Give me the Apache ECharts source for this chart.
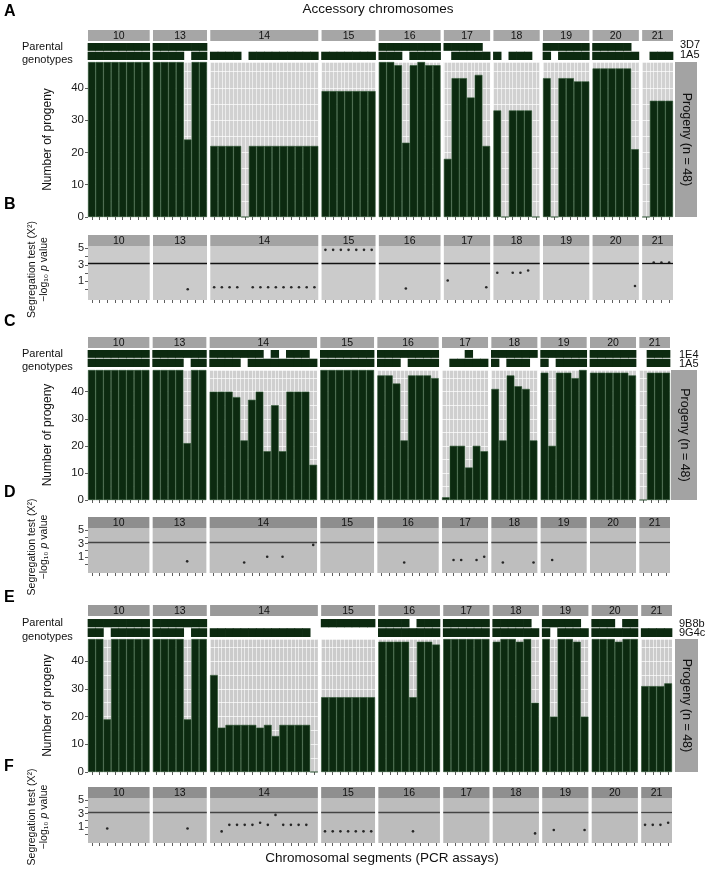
<!DOCTYPE html>
<html><head><meta charset="utf-8">
<script src="https://cdn.jsdelivr.net/npm/echarts@6/dist/echarts.min.js"></script>
<style>html,body{margin:0;padding:0;background:#fff}#c{width:709px;height:872px}</style>
</head><body><div id="c"></div>
<script>
// ---------------- DATA ----------------
const chromosomes = ['10','13','14','15','16','17','18','19','20','21'];
const segmentsPerChromosome = [8,7,14,7,8,6,6,6,6,4];
const yTicksCount = [0,10,20,30,40];
const yTicksP = [1,3,5];
const threshold = 3.16;

// Cross 1: 3D7 x 1A5
const parents1 = ['3D7','1A5'];
const counts1 = [
 [48,48,48,48,48,48,48,48],
 [48,48,48,48,24,48,48],
 [22,22,22,22,0,22,22,22,22,22,22,22,22,22],
 [39,39,39,39,39,39,39],
 [48,48,47,23,47,48,47,47],
 [18,43,43,37,44,22],
 [33,0,33,33,33,0],
 [43,0,43,43,42,42],
 [46,46,46,46,46,21],
 [0,36,36,36]
];
const parentA1 = [
 [1,1,1,1,1,1,1,1],[1,1,1,1,1,1,1],[0,0,0,0,0,0,0,0,0,0,0,0,0,0],[0,0,0,0,0,0,0],
 [1,1,1,1,1,1,1,1],[1,1,1,1,1,0],[0,0,0,0,0,0],[1,1,1,1,1,1],[1,1,1,1,1,0],[0,0,0,0]
];
const parentB1 = [
 [1,1,1,1,1,1,1,1],[1,1,1,1,0,1,1],[1,1,1,1,0,1,1,1,1,1,1,1,1,1],[1,1,1,1,1,1,1],
 [1,1,1,0,1,1,1,1],[0,1,1,1,1,1],[1,0,1,1,1,0],[1,0,1,1,1,1],[1,1,1,1,1,1],[0,1,1,1]
];
const pval1 = [
 [null,null,null,null,null,null,null,null],
 [null,null,null,null,0.02,null,null],
 [0.25,0.25,0.25,0.25,null,0.25,0.25,0.25,0.25,0.25,0.25,0.25,0.25,0.25],
 [4.83,4.83,4.83,4.83,4.83,4.83,4.83],
 [null,null,null,0.11,null,null,null,null],
 [1.08,null,null,null,null,0.25],
 [2.03,null,2.03,2.03,2.3,null],
 [null,null,null,null,null,null],
 [null,null,null,null,null,0.41],
 [null,3.27,3.27,3.27]
];

// Cross 2: 1E4 x 1A5
const parents2 = ['1E4','1A5'];
const counts2 = [
 [48,48,48,48,48,48,48,48],
 [48,48,48,48,21,48,48],
 [40,40,40,38,22,37,40,18,35,18,40,40,40,13],
 [48,48,48,48,48,48,48],
 [46,46,43,22,46,46,46,45],
 [1,20,20,12,20,18],
 [41,22,46,42,41,22],
 [47,20,47,47,45,48],
 [47,47,47,47,47,46],
 [0,47,47,47]
];
const parentA2 = [
 [1,1,1,1,1,1,1,1],[1,1,1,1,1,1,1],[1,1,1,1,1,1,1,0,1,0,1,1,1,0],[1,1,1,1,1,1,1],
 [1,1,1,1,1,1,1,1],[0,0,0,1,0,0],[1,1,1,1,1,1],[1,1,1,1,1,1],[1,1,1,1,1,1],[0,1,1,1]
];
const parentB2 = [
 [1,1,1,1,1,1,1,1],[1,1,1,1,0,1,1],[1,1,1,1,0,1,1,1,1,1,1,1,1,1],[1,1,1,1,1,1,1],
 [1,1,1,0,1,1,1,1],[0,1,1,1,1,1],[1,0,1,1,1,0],[1,0,1,1,1,1],[1,1,1,1,1,1],[0,1,1,1]
];
const pval2 = [
 [null,null,null,null,null,null,null,null],
 [null,null,null,null,0.41,null,null],
 [null,null,null,null,0.25,null,null,1.08,null,1.08,null,null,null,2.82],
 [null,null,null,null,null,null,null],
 [null,null,null,0.25,null,null,null,null],
 [null,0.6,0.6,null,0.6,1.08],
 [null,0.25,null,null,null,0.25],
 [null,0.6,null,null,null,null],
 [null,null,null,null,null,null],
 [null,null,null,null]
];

// Cross 3: 9B8b x 9G4c
const parents3 = ['9B8b','9G4c'];
const counts3 = [
 [48,48,19,48,48,48,48,48],
 [48,48,48,48,19,48,48],
 [35,16,17,17,17,17,16,17,13,17,17,17,17,0],
 [27,27,27,27,27,27,27],
 [47,47,47,47,27,47,47,46],
 [48,48,48,48,48,48],
 [47,48,48,47,48,25],
 [48,20,48,48,47,20],
 [48,48,48,47,48,48],
 [31,31,31,32]
];
const parentA3 = [
 [1,1,1,1,1,1,1,1],[1,1,1,1,1,1,1],[0,0,0,0,0,0,0,0,0,0,0,0,0,0],[1,1,1,1,1,1,1],
 [1,1,1,1,0,1,1,1],[1,1,1,1,1,1],[1,1,1,1,1,0],[1,1,1,1,1,0],[1,1,1,0,1,1],[0,0,0,0]
];
const parentB3 = [
 [1,1,0,1,1,1,1,1],[1,1,1,1,0,1,1],[1,1,1,1,1,1,1,1,1,1,1,1,1,0],[0,0,0,0,0,0,0],
 [1,1,1,1,1,1,1,1],[1,1,1,1,1,1],[1,1,1,1,1,1],[1,0,1,1,1,1],[1,1,1,1,1,1],[1,1,1,1]
];
const pval3 = [
 [null,null,0.83,null,null,null,null,null],
 [null,null,null,null,0.83,null,null],
 [null,0.4,1.36,1.36,1.36,1.36,1.68,1.36,2.82,1.36,1.36,1.36,1.36,null],
 [0.41,0.41,0.41,0.41,0.41,0.41,0.41],
 [null,null,null,null,0.41,null,null,null],
 [null,null,null,null,null,null],
 [null,null,null,null,null,0.11],
 [null,0.6,null,null,null,0.6],
 [null,null,null,null,null,null],
 [1.36,1.36,1.36,1.68]
];

// ---------------- LAYOUT / STYLE ----------------
const FONT = '"Liberation Sans", Arial, sans-serif';
const DARK = '#0c2a10';
const groups = [
 {letters:['A','B'], letterY:[12,205], parents:parents1, counts:counts1, pa:parentA1, pb:parentB1, pv:pval1,
  x0:88, x1:673, chromTop:30, chromH:11, parTop:43, parBot:60, barTop:62, barBot:217,
  ptStripTop:235, ptTop:246, ptBot:300, progX0:675, progX1:697, parLabelY:[45,54.5], parLabelX:680,
  panelBg:'#d1d1d1', stripBg:'#a6a6a6', ptBg:'#cbcbcb', ptStripBg:'#a3a3a3', thrColor:'#111'},
 {letters:['C','D'], letterY:[322,493], parents:parents2, counts:counts2, pa:parentA2, pb:parentB2, pv:pval2,
  x0:88, x1:670, chromTop:337, chromH:11, parTop:350, parBot:367, barTop:370, barBot:500,
  ptStripTop:517, ptTop:528, ptBot:573, progX0:671, progX1:697, parLabelY:[355,363.5], parLabelX:679,
  panelBg:'#cfcfcf', stripBg:'#a3a3a3', ptBg:'#bebebe', ptStripBg:'#8e8e8e', thrColor:'#444'},
 {letters:['E','F'], letterY:[598,767], parents:parents3, counts:counts3, pa:parentA3, pb:parentB3, pv:pval3,
  x0:88, x1:672, chromTop:605, chromH:11, parTop:619, parBot:637, barTop:639, barBot:772,
  ptStripTop:787, ptTop:798, ptBot:843, progX0:675, progX1:698, parLabelY:[624,633], parLabelX:679,
  panelBg:'#cbcbcb', stripBg:'#9a9a9a', ptBg:'#bcbcbc', ptStripBg:'#8f8f8f', thrColor:'#444'}
];

const option = {animation:false, backgroundColor:'#fff', grid:[], xAxis:[], yAxis:[], series:[], graphic:{elements:[]}};
const G_EL = option.graphic.elements;
function text(x, y, str, o) {
  G_EL.push(Object.assign({type:'text', x, y, style:Object.assign({text:str, fontFamily:FONT, fontSize:11, fill:'#111', textAlign:'left', textVerticalAlign:'middle'}, o && o.style)}, o && o.el));
}
function rect(x, y, w, h, fill) {
  G_EL.push({type:'rect', shape:{x, y, width:w, height:h}, style:{fill}, z:-1});
}
function facetLayout(x0, x1, gap) {
  const total = segmentsPerChromosome.reduce((a,b)=>a+b,0);
  const unit = (x1 - x0 - gap*(chromosomes.length-1))/total;
  let x = x0; const out = [];
  segmentsPerChromosome.forEach(n => { out.push({left:x, width:n*unit}); x += n*unit + gap; });
  return out;
}
function addGrid(g) { option.grid.push(Object.assign({borderWidth:0, containLabel:false}, g)); return option.grid.length-1; }
function addX(a) { option.xAxis.push(a); return option.xAxis.length-1; }
function addY(a) { option.yAxis.push(a); return option.yAxis.length-1; }

const hiddenParts = {axisLine:{show:false, onZero:false}, axisTick:{show:false}, axisLabel:{show:false}};
const xTick = {show:true, alignWithLabel:true, interval:0, length:3, lineStyle:{color:'#333', width:0.8}};

// genotype row tile: value = [segment index, row (0 = lower parent, 1 = upper parent)]
function renderGenotype(params, api) {
  const i = api.value(0), r = api.value(1);
  const w = api.size([1, 0])[0];
  const c = api.coord([i, r]);
  const top = api.coord([i, r + 0.95])[1];
  const bot = api.coord([i, r + 0.05 * (r === 0 ? 0 : 1)])[1];
  return {type:'rect', shape:{x:c[0] - w/2 - 0.35, y:top, width:w + 0.7, height:bot - top}, style:{fill:DARK}};
}

groups.forEach(G => {
  const lay = facetLayout(G.x0, G.x1, 3.3);
  lay.forEach((f, k) => {
    const n = segmentsPerChromosome[k];
    const cats = Array.from({length:n}, (_, i) => chromosomes[k] + '.' + (i+1));
    // chromosome strip labels (top and point-panel)
    rect(f.left, G.chromTop, f.width, G.chromH, G.stripBg);
    text(f.left + f.width/2, G.chromTop + G.chromH/2 + 0.5, chromosomes[k], {style:{textAlign:'center', fontSize:10.5}});
    rect(f.left, G.ptStripTop, f.width, G.ptTop - G.ptStripTop, G.ptStripBg);
    text(f.left + f.width/2, (G.ptStripTop + G.ptTop)/2 + 0.5, chromosomes[k], {style:{textAlign:'center', fontSize:10.5}});

    // parental genotype rows
    let gi = addGrid({left:f.left, top:G.parTop, width:f.width, height:G.parBot - G.parTop});
    let xi = addX({type:'category', gridIndex:gi, data:cats, show:false});
    let yi = addY({type:'value', gridIndex:gi, min:0, max:1.95, show:false});
    const tiles = [];
    G.pb[k].forEach((v, i) => { if (v) tiles.push([i, 0]); });
    G.pa[k].forEach((v, i) => { if (v) tiles.push([i, 1]); });
    option.series.push({type:'custom', xAxisIndex:xi, yAxisIndex:yi, renderItem:renderGenotype, data:tiles, clip:false});

    // progeny bar panel
    gi = addGrid({left:f.left, top:G.barTop, width:f.width, height:G.barBot - G.barTop, show:true, backgroundColor:G.panelBg});
    xi = addX({type:'category', gridIndex:gi, data:cats, boundaryGap:true, axisLine:{show:false, onZero:false},
      axisTick:xTick, axisLabel:{show:false, interval:0}, splitLine:{show:false}});
    addX(Object.assign({type:'value', gridIndex:gi, min:0, max:2*n, interval:1, position:'top',
      splitLine:{show:true, lineStyle:{color:'#fff', width:0.6}}}, hiddenParts));
    yi = addY(Object.assign({type:'value', gridIndex:gi, min:0, max:48, interval:5,
      splitLine:{show:true, lineStyle:{color:'#fff', width:0.7}}}, hiddenParts));
    if (k === 0) {
      addY({type:'value', gridIndex:gi, min:0, max:48, position:'left', axisLine:{show:false}, splitLine:{show:false},
        axisTick:{show:true, length:3, customValues:yTicksCount, lineStyle:{color:'#333', width:0.8}},
        axisLabel:{show:true, customValues:yTicksCount, fontSize:11.5, fontFamily:FONT, color:'#1a1a1a', margin:4}});
    }
    option.series.push({type:'bar', xAxisIndex:xi, yAxisIndex:yi, barWidth:'100%', barCategoryGap:'0%',
      itemStyle:{color:DARK, borderColor:'#2d5532', borderWidth:0.6}, data:G.counts[k]});

    // segregation test panel
    gi = addGrid({left:f.left, top:G.ptTop, width:f.width, height:G.ptBot - G.ptTop, show:true, backgroundColor:G.ptBg});
    xi = addX({type:'category', gridIndex:gi, data:cats, boundaryGap:true, position:'bottom', axisLine:{show:false, onZero:false},
      axisTick:xTick, axisLabel:{show:false, interval:0}, splitLine:{show:false}});
    if (k === 0) {
      yi = addY({type:'value', gridIndex:gi, min:-1.3, max:5.3, position:'left', axisLine:{show:false, onZero:false}, splitLine:{show:false},
        axisTick:{show:true, length:3, customValues:[0,1,2,3,4,5], lineStyle:{color:'#333', width:0.8}},
        axisLabel:{show:true, customValues:yTicksP, fontSize:11, fontFamily:FONT, color:'#1a1a1a', margin:4}});
    } else {
      yi = addY(Object.assign({type:'value', gridIndex:gi, min:-1.3, max:5.3, splitLine:{show:false}}, hiddenParts));
    }
    const pts = [];
    G.pv[k].forEach((v, i) => { if (v !== null) pts.push([i, v]); });
    option.series.push({type:'scatter', xAxisIndex:xi, yAxisIndex:yi, symbol:'circle', symbolSize:2.6,
      itemStyle:{color:'#000'}, data:pts,
      markLine:{silent:true, symbol:'none', label:{show:false}, lineStyle:{color:G.thrColor, width:1.3, type:'solid'},
        data:[{yAxis:threshold}]}});
  });

  // Side labels
  const barMid = (G.barTop + G.barBot)/2;
  rect(G.progX0, G.barTop, G.progX1 - G.progX0, G.barBot - G.barTop, '#a3a3a3');
  text((G.progX0 + G.progX1)/2, barMid, 'Progeny (n = 48)', {style:{textAlign:'center', fontSize:12.5}, el:{rotation:-Math.PI/2}});
  text(G.parLabelX, G.parLabelY[0], G.parents[0], {style:{fontSize:11}});
  text(G.parLabelX, G.parLabelY[1], G.parents[1], {style:{fontSize:11}});
  text(22, G.parTop + 4, 'Parental', {style:{fontSize:11}});
  text(22, G.parBot, 'genotypes', {style:{fontSize:11}});
  text(48, barMid, 'Number of progeny', {style:{textAlign:'center', fontSize:12}, el:{rotation:Math.PI/2}});
  const ptMid = (G.ptStripTop + G.ptBot)/2 + 2;
  text(32, ptMid, 'Segregation test (X²)', {style:{textAlign:'center', fontSize:10.5}, el:{rotation:Math.PI/2}});
  text(44, ptMid, '−log₁₀ {i|p} value', {style:{textAlign:'center', fontSize:10.5,
    rich:{i:{fontStyle:'italic', fontSize:10.5, fontFamily:FONT}}}, el:{rotation:Math.PI/2}});
  text(4, G.letterY[0], G.letters[0], {style:{fontSize:16, fontWeight:'bold', fill:'#000'}});
  text(4, G.letterY[1], G.letters[1], {style:{fontSize:16, fontWeight:'bold', fill:'#000'}});
});
text(378, 9, 'Accessory chromosomes', {style:{textAlign:'center', fontSize:13.5}});
text(382, 858, 'Chromosomal segments (PCR assays)', {style:{textAlign:'center', fontSize:13.5}});

const chart = echarts.init(document.getElementById('c'), null, {renderer:'canvas'});
chart.setOption(option);
</script>
</body></html>
